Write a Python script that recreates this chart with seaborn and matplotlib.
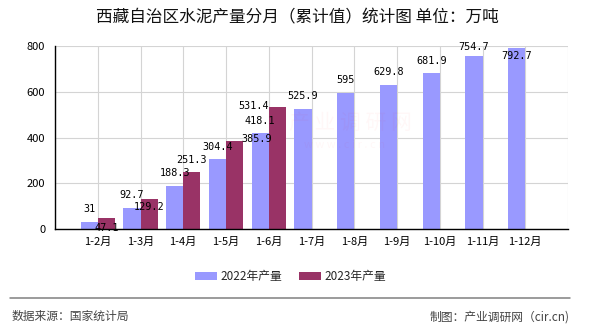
import numpy as np
import pandas as pd
import matplotlib
matplotlib.use("Agg")
import matplotlib.pyplot as plt
import seaborn as sns

# Cumulative monthly cement output, Tibet (10k tonnes)
periods = ["1-2月", "1-3月", "1-4月", "1-5月", "1-6月", "1-7月",
           "1-8月", "1-9月", "1-10月", "1-11月", "1-12月"]
values_2022 = [31, 92.7, 188.3, 304.4, 418.1, 525.9, 595, 629.8, 681.9, 754.7, 792.7]
values_2023 = [47.1, 129.2, 251.3, 385.9, 531.4]
series_names = ["2022年产量", "2023年产量"]
y_ticks = [0, 200, 400, 600, 800]

title = "西藏自治区水泥产量分月（累计值）统计图 单位：万吨"
source_text = "数据来源：国家统计局"
credit_text = "制图：产业调研网（cir.cn)"

colors = ["#9999FF", "#993366"]

# label nudges in pixels (dx, dy) relative to each bar top
offsets_2022 = [(0, 12.5)] * 9 + [(0, 9), (0, -8)]
offsets_2023 = [(0, -10), (0, -8), (0, 12), (22, 2), (-24, 1)]

sns.set_theme(style="white")
plt.rcParams["font.family"] = ["Noto Sans CJK SC", "DejaVu Sans"]

padded_2023 = values_2023 + [np.nan] * (len(periods) - len(values_2023))
df = pd.DataFrame({
    "period": periods * 2,
    "series": [series_names[0]] * len(periods) + [series_names[1]] * len(periods),
    "value": values_2022 + padded_2023,
})

W, H = 590, 330
fig = plt.figure(figsize=(W / 100, H / 100), dpi=100)
ax = fig.add_axes([55 / W, 1 - 229 / H, 513 / W, 183 / H])

sns.barplot(data=df, x="period", y="value", hue="series", order=periods,
            hue_order=series_names, palette=colors, saturation=1,
            width=0.8, gap=0, ax=ax, legend=True, linewidth=0)

ax.set_axisbelow(True)
ax.set_xlim(-1, len(periods))
ax.set_ylim(0, 800)
ax.set_xticks(range(-1, len(periods) + 1))
ax.set_xticklabels([""] + periods + [""])
ax.set_yticks(y_ticks)
ax.set_yticklabels([str(t) for t in y_ticks])
ax.set_xlabel("")
ax.set_ylabel("")
ax.grid(True, color="#d4d4d4", linewidth=0.8)
for side in ("top", "right"):
    ax.spines[side].set_visible(False)
for side in ("left", "bottom"):
    ax.spines[side].set_color("black")
    ax.spines[side].set_linewidth(1.0)
ax.tick_params(axis="both", labelsize=8, colors="black", direction="out")
ax.tick_params(axis="y", length=4, width=0.8, pad=3)
ax.tick_params(axis="x", length=3, width=0.8, pad=3)

# value labels drawn from the bars themselves
for container, vals, offs in zip(ax.containers, [values_2022, values_2023],
                                 [offsets_2022, offsets_2023]):
    bars = [b for b in container if not np.isnan(b.get_height())]
    for bar, v, (dx, dy) in zip(bars, vals, offs):
        ax.annotate(f"{v:g}", xy=(bar.get_x() + bar.get_width() / 2, bar.get_height()),
                    xytext=(dx, dy), textcoords="offset pixels", ha="center",
                    va="center", family="DejaVu Sans Mono", fontsize=7.3,
                    color="black", zorder=5)

# faint watermark
fig.text(350 / W, 1 - 123 / H, "产 业 调 研 网", fontsize=15, color="#ff0000",
         alpha=0.03, ha="center", va="center")
fig.text(345 / W, 1 - 145 / H, "w w w . c i r . c n", fontsize=8, color="#ff0000",
         alpha=0.03, ha="center", va="center")

sns.move_legend(ax, "center", bbox_to_anchor=(290.5 / W, 1 - 276.7 / H),
                bbox_transform=fig.transFigure, ncol=2, title=None,
                frameon=False, fontsize=8.5, handlelength=1.86,
                handleheight=0.68, handletextpad=0.34, columnspacing=1.36,
                borderpad=0)

fig.text(297.5 / W, 1 - 17.5 / H, title, fontsize=12, color="#111111",
         ha="center", va="center")

fig.add_artist(plt.Line2D([10 / W, 570 / W], [1 - 298.3 / H, 1 - 298.3 / H],
                          transform=fig.transFigure, color="#808080", linewidth=1.1))
fig.text(12 / W, 1 - 316.7 / H, source_text, fontsize=8.5, color="#444444",
         ha="left", va="center")
fig.text(570 / W, 1 - 316.7 / H, credit_text, fontsize=8.5, color="#444444",
         ha="right", va="center")

fig.savefig("out.png", dpi=100)
